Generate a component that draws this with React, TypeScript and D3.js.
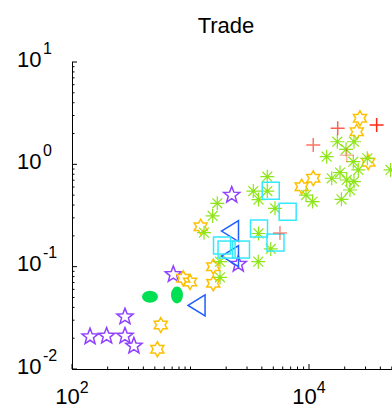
import React from "react";
import * as d3 from "d3";

// Trade volumes: each series is a list of (x, y) points on log–log axes
const starX = [142, 196, 280, 280, 333, 716, 2228, 2530];
const starY = [0.0207, 0.021, 0.0324, 0.021, 0.0168, 0.0839, 0.501, 0.106];

const blobX = [455, 769];
const blobY = [0.0509, 0.0528];

const triX = [1125, 2154, 2154];
const triY = [0.0418, 0.223, 0.127];

const hexX = [561, 525, 869, 991, 1556, 1556, 1219, 8670, 10860, 26920, 25290, 31620];
const hexY = [0.0269, 0.0156, 0.0769, 0.0708, 0.1, 0.0687, 0.246, 0.605, 0.731, 2.82, 2.08, 1.05];

const astX = [
  4446, 3388, 4446, 3750, 1683, 5164, 1538, 1300, 3750, 4755, 3733, 1774, 1774,
  17340, 23970, 20530, 14090, 23660, 31050, 26060, 18280, 15560, 20800, 23970,
  22180, 18790, 9440, 10720, 48750,
];
const astY = [
  0.757, 0.548, 0.548, 0.453, 0.416, 0.372, 0.313, 0.215, 0.211, 0.149, 0.112, 0.112, 0.0787,
  1.663, 1.663, 1.403, 1.188, 1.061, 1.146, 0.881, 0.832, 0.731, 0.703, 0.679,
  0.561, 0.455, 0.501, 0.433, 0.881,
];

const sqX = [4755, 6607, 3785, 5213, 1845, 2015, 2667];
const sqY = [0.552, 0.344, 0.236, 0.172, 0.161, 0.147, 0.147];

const plusX = [5688, 17460, 37240, 10860, 20800];
const plusY = [0.213, 2.25, 2.42, 1.545, 1.23];

const xTickExp = [2, 4];
const yTickExp = [1, 0, -1, -2];

// marker styling
const blobRadii: [number, number][] = [[8, 6], [6, 8.5]];
const plusAlpha = [0.55, 0.75, 1, 0.65, 0.35];
const FONT = "'Liberation Sans', Arial, Helvetica, sans-serif";

const W = 392;
const H = 409;
const L = 72;
const B = 369;
const T = 62;
const decadeX = 118.5;

const x = d3.scaleLog().domain([1e2, 1e5]).range([L, L + 3 * decadeX]);
const y = d3.scaleLog().domain([1e-2, 1e1]).range([B, T]);

const starPath = (cx: number, cy: number, n: number, ro: number, ri: number) => {
  const pts: string[] = [];
  for (let i = 0; i < 2 * n; i++) {
    const a = -Math.PI / 2 + (i * Math.PI) / n;
    const r = i % 2 === 0 ? ro : ri;
    pts.push(`${cx + r * Math.cos(a)},${cy + r * Math.sin(a)}`);
  }
  return "M" + pts.join("L") + "Z";
};

const asteriskPath = (cx: number, cy: number, r: number) => {
  const d = r * Math.SQRT1_2;
  return `M${cx - r},${cy}H${cx + r}M${cx},${cy - r}V${cy + r}` +
    `M${cx - d},${cy - d}L${cx + d},${cy + d}M${cx - d},${cy + d}L${cx + d},${cy - d}`;
};

export default function App() {
  const xMinor: number[] = [];
  for (let k = 2; k <= 4; k++) for (let m = 2; m <= 9; m++) xMinor.push(m * 10 ** k);
  const yMinor: number[] = [];
  for (let k = -2; k <= 0; k++) for (let m = 2; m <= 9; m++) yMinor.push(m * 10 ** k);

  return (
    <svg
      width={W}
      height={H}
      style={{ position: "absolute", left: 0, top: 0, background: "#fff" }}
      fontFamily={FONT}
    >
      <rect width={W} height={H} fill="#fff" />
      <text x={226} y={32.5} textAnchor="middle" fontSize={22} fill="#000">
        Trade
      </text>

      {/* axes */}
      <g stroke="#000" strokeWidth={1} fill="none">
        <line x1={L} x2={W} y1={B + 0.5} y2={B + 0.5} />
        <line x1={L + 0.5} x2={L + 0.5} y1={T} y2={B + 0.5} />
        {xMinor.filter((v) => x(v) < W).map((v, i) => (
          <line key={"xm" + i} x1={x(v)} x2={x(v)} y1={B} y2={B - 2.5} />
        ))}
        {[100, 1000, 10000].map((v, i) => (
          <line key={"xM" + i} x1={x(v)} x2={x(v)} y1={B} y2={B - (v === 1000 ? 2.5 : 5)} />
        ))}
        {yMinor.map((v, i) => (
          <line key={"ym" + i} x1={L} x2={L + 2.5} y1={y(v)} y2={y(v)} />
        ))}
        {yTickExp.map((e) => (
          <line key={"yM" + e} x1={L} x2={L + 5} y1={y(10 ** e)} y2={y(10 ** e)} />
        ))}
      </g>

      {/* tick labels */}
      <g fill="#000">
        {xTickExp.map((e) => (
          <text key={"xl" + e} x={x(10 ** e)} y={404} textAnchor="middle" fontSize={22}>
            <tspan>10</tspan>
            <tspan dy={-11} fontSize={16}>{e}</tspan>
          </text>
        ))}
        {yTickExp.map((e) => (
          <text key={"yl" + e} x={17} y={y(10 ** e) + 4.5} fontSize={22}>
            <tspan>10</tspan>
            <tspan dx={1.5} dy={-13} fontSize={16}>{e}</tspan>
          </text>
        ))}
      </g>

      {/* series */}
      <g fill="none" strokeWidth={1.5} strokeLinejoin="miter">
        {starX.map((v, i) => (
          <path key={"st" + i} d={starPath(x(v), y(starY[i]), 5, 8.5, 3.6)} stroke="#9040ff" />
        ))}
        {blobX.map((v, i) => (
          <ellipse
            key={"bl" + i}
            cx={x(v)}
            cy={y(blobY[i])}
            rx={blobRadii[i][0]}
            ry={blobRadii[i][1]}
            fill="#00e052"
            stroke="none"
          />
        ))}
        {triX.map((v, i) => {
          const cx = x(v);
          const cy = y(triY[i]);
          return (
            <path
              key={"tr" + i}
              d={`M${cx - 8.5},${cy}L${cx + 8.5},${cy - 10.5}L${cx + 8.5},${cy + 10.5}Z`}
              stroke="#1f5fff"
            />
          );
        })}
        {hexX.map((v, i) => (
          <path key={"hx" + i} d={starPath(x(v), y(hexY[i]), 6, 7.5, 4.3)} stroke="#ffc000" />
        ))}
        {astX.map((v, i) => (
          <path
            key={"as" + i}
            d={asteriskPath(x(v), y(astY[i]), 7)}
            stroke="#8ee61a"
            strokeWidth={1.2}
          />
        ))}
        {sqX.map((v, i) => (
          <rect
            key={"sq" + i}
            x={x(v) - 8.5}
            y={y(sqY[i]) - 8.5}
            width={17}
            height={17}
            stroke="#33e8ff"
          />
        ))}
        {plusX.map((v, i) => {
          const cx = x(v);
          const cy = y(plusY[i]);
          return (
            <path
              key={"pl" + i}
              d={`M${cx - 7},${cy}H${cx + 7}M${cx},${cy - 7}V${cy + 7}`}
              stroke="#ff2a14"
              strokeOpacity={plusAlpha[i]}
            />
          );
        })}
      </g>
    </svg>
  );
}
